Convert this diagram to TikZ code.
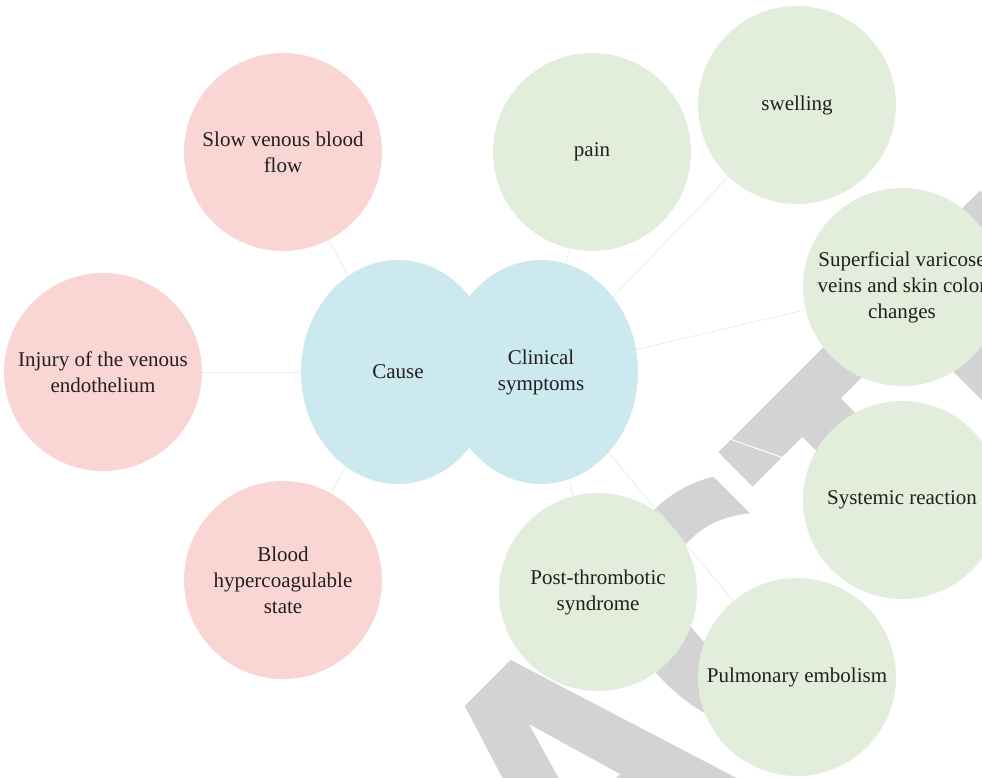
\documentclass[tikz,border=0pt]{standalone}
\usepackage{fontspec}
\setmainfont{Liberation Serif}
\newfontfamily\stampfont{DejaVu Sans}
\usetikzlibrary{shapes.geometric,backgrounds,positioning}
\definecolor{causered}{RGB}{249,214,211}
\definecolor{hubblue}{RGB}{203,233,238}
\definecolor{symgreen}{RGB}{226,237,219}
\definecolor{linegray}{RGB}{238,238,238}
\definecolor{stampgray}{RGB}{211,211,211}
\definecolor{txt}{RGB}{35,31,32}
\tikzset{
    font=\fontsize{21}{26}\selectfont,
    %Define style for the cause circles
    cause/.style={
           circle,
           fill=causered,
           text=txt,
           minimum size=198pt,
           inner sep=0pt,
           align=center},
    %Define style for the symptom circles
    symptom/.style={cause, fill=symgreen},
    %Define style for the two centre ellipses
    hub/.style={ellipse, fill=hubblue, text=txt, minimum width=194pt,
           minimum height=224pt, inner sep=0pt, align=center},
    % Define connector style
    link/.style={draw=linegray, line width=1pt},
    % Define style for the watermark
    stamp/.style={text=stampgray, inner sep=0pt, rotate=45, xscale=0.846,
           anchor=base, font=\stampfont\bfseries\fontsize{343}{343}\selectfont}
}

\begin{document}
\begin{tikzpicture}[x=1pt,y=-1pt]
  \useasboundingbox (0,0) rectangle (982,777);
  % centre
  \node[hub] (cause) at (398,372) {Cause};
  \node[hub] (clinical) at (541,372) {Clinical\\symptoms};
  % causes
  \node[cause] (slow) at (283,152) {Slow venous blood\\flow};
  \node[cause] (injury) at (103,372) {Injury of the venous\\endothelium};
  \node[cause] (blood) at (283,580) {Blood\\hypercoagulable\\state};
  % symptoms
  \node[symptom] (pain) at (592,152) {pain};
  \node[symptom] (swelling) at (797,105) {swelling};
  \node[symptom] (varicose) at (902,287) {Superficial varicose\\veins and skin color\\changes};
  \node[symptom] (systemic) at (902,500) {Systemic reaction};
  \node[symptom] (postthr) at (598,592) {Post-thrombotic\\syndrome};
  \node[symptom] (embolism) at (797,677) {Pulmonary embolism};
  \begin{scope}[on background layer]
    \node[stamp] (wm) at (667,858) {RETRACTED};
    \path[link]
      (cause) edge (slow)
      (cause) edge (injury)
      (cause) edge (blood)
      (clinical) edge (pain)
      (clinical) edge (swelling)
      (clinical) edge (varicose)
      (clinical) edge[draw=white] (systemic)
      (clinical) edge (postthr)
      (clinical) edge (embolism);
  \end{scope}
\end{tikzpicture}
\end{document}
